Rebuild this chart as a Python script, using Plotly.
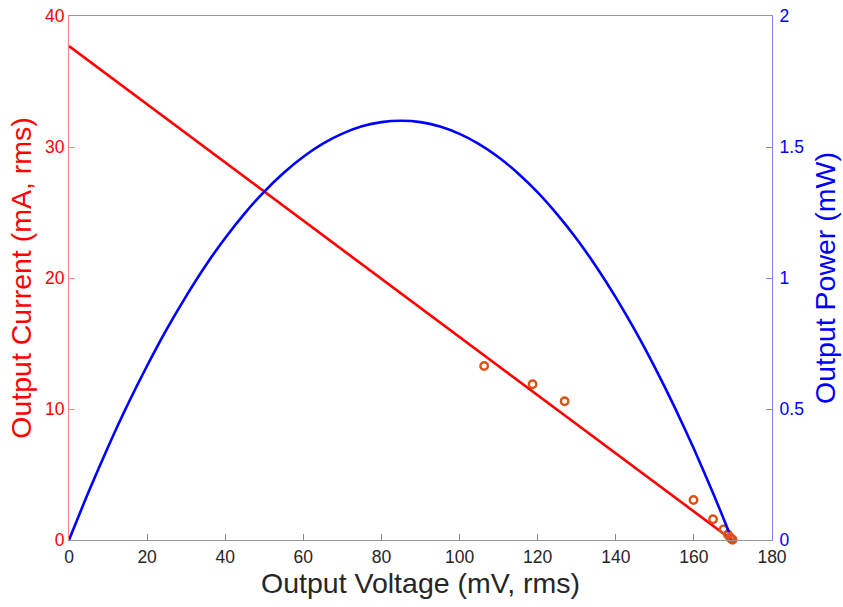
import plotly.graph_objects as go

# Linear fit of output current vs voltage (endpoints)
fit_voltage = [0.0, 169.8]
fit_current = [37.7, 0.0]

# Output power curve (mW)
power_voltage = [0, 5, 10, 15, 20, 25, 30, 35, 40, 45, 50, 55, 60, 65, 70, 75, 80, 85,
                 90, 95, 100, 105, 110, 115, 120, 125, 130, 135, 140, 145, 150, 155, 160, 165, 169]
power_mw = [0.0, 0.183, 0.355, 0.516, 0.665, 0.804, 0.931, 1.048, 1.153, 1.247, 1.330,
            1.402, 1.463, 1.513, 1.551, 1.579, 1.595, 1.600, 1.595, 1.578, 1.550, 1.511,
            1.461, 1.399, 1.327, 1.243, 1.149, 1.043, 0.926, 0.798, 0.659, 0.509, 0.348,
            0.176, 0.030]

# Measured points
meas_voltage = [106.3, 118.7, 126.9, 159.9, 164.9, 167.6, 168.7, 169.3, 169.7, 169.9]
meas_current = [13.28, 11.89, 10.59, 3.05, 1.58, 0.81, 0.42, 0.2, 0.08, 0.02]

x_ticks = [0, 20, 40, 60, 80, 100, 120, 140, 160, 180]
y_left_ticks = [0, 10, 20, 30, 40]
y_right_ticks = [0, 0.5, 1, 1.5, 2]

fig = go.Figure()
fig.add_trace(go.Scatter(x=power_voltage, y=power_mw, mode="lines", yaxis="y2",
                         line=dict(color="#0000FF", width=2.6, shape="spline", smoothing=0.6),
                         showlegend=False))
fig.add_trace(go.Scatter(x=fit_voltage, y=fit_current, mode="lines",
                         line=dict(color="#FF0000", width=2.6), showlegend=False))
fig.add_trace(go.Scatter(x=meas_voltage, y=meas_current, mode="markers",
                         marker=dict(symbol="circle-open", size=7.5, color="#D95319",
                                     line=dict(width=2.4, color="#D95319")),
                         showlegend=False, cliponaxis=False))

font = "Liberation Sans, Arial, sans-serif"
fig.update_layout(
    width=843, height=607,
    margin=dict(l=69, r=71, t=16, b=67),
    plot_bgcolor="white", paper_bgcolor="white",
    font=dict(family=font, size=17.5),
    xaxis=dict(range=[0, 180], tickvals=x_ticks, ticks="inside", ticklen=6,
               tickcolor="#888", showline=True, linecolor="#999", linewidth=1.2,
               mirror=True, showgrid=False, zeroline=False, automargin=False,
               tickfont=dict(color="#262626", size=17.5), ticklabelstandoff=1,
               title=dict(text="Output Voltage (mV, rms)", font=dict(size=28.5, color="#262626"),
                          standoff=3)),
    yaxis=dict(range=[0, 40], tickvals=y_left_ticks, ticks="inside", ticklen=6,
               tickcolor="#FF8080", showline=True, linecolor="#FF8080", linewidth=1.2,
               showgrid=False, zeroline=False, automargin=False,
               tickfont=dict(color="#FF0000", size=17.5),
               title=dict(text="Output Current (mA, rms)", font=dict(size=28.5, color="#FF0000"),
                          standoff=4)),
    yaxis2=dict(range=[0, 2], tickvals=y_right_ticks, ticks="inside", ticklen=6,
                tickcolor="#8080FF", showline=True, linecolor="#8080FF", linewidth=1.2,
                overlaying="y", side="right", showgrid=False, zeroline=False, automargin=False,
                tickfont=dict(color="#0000FF", size=17.5), ticklabelstandoff=3,
                title=dict(text="Output Power (mW)", font=dict(size=28.5, color="#0000FF"),
                           standoff=12)),
)

fig.write_html("out.html")
